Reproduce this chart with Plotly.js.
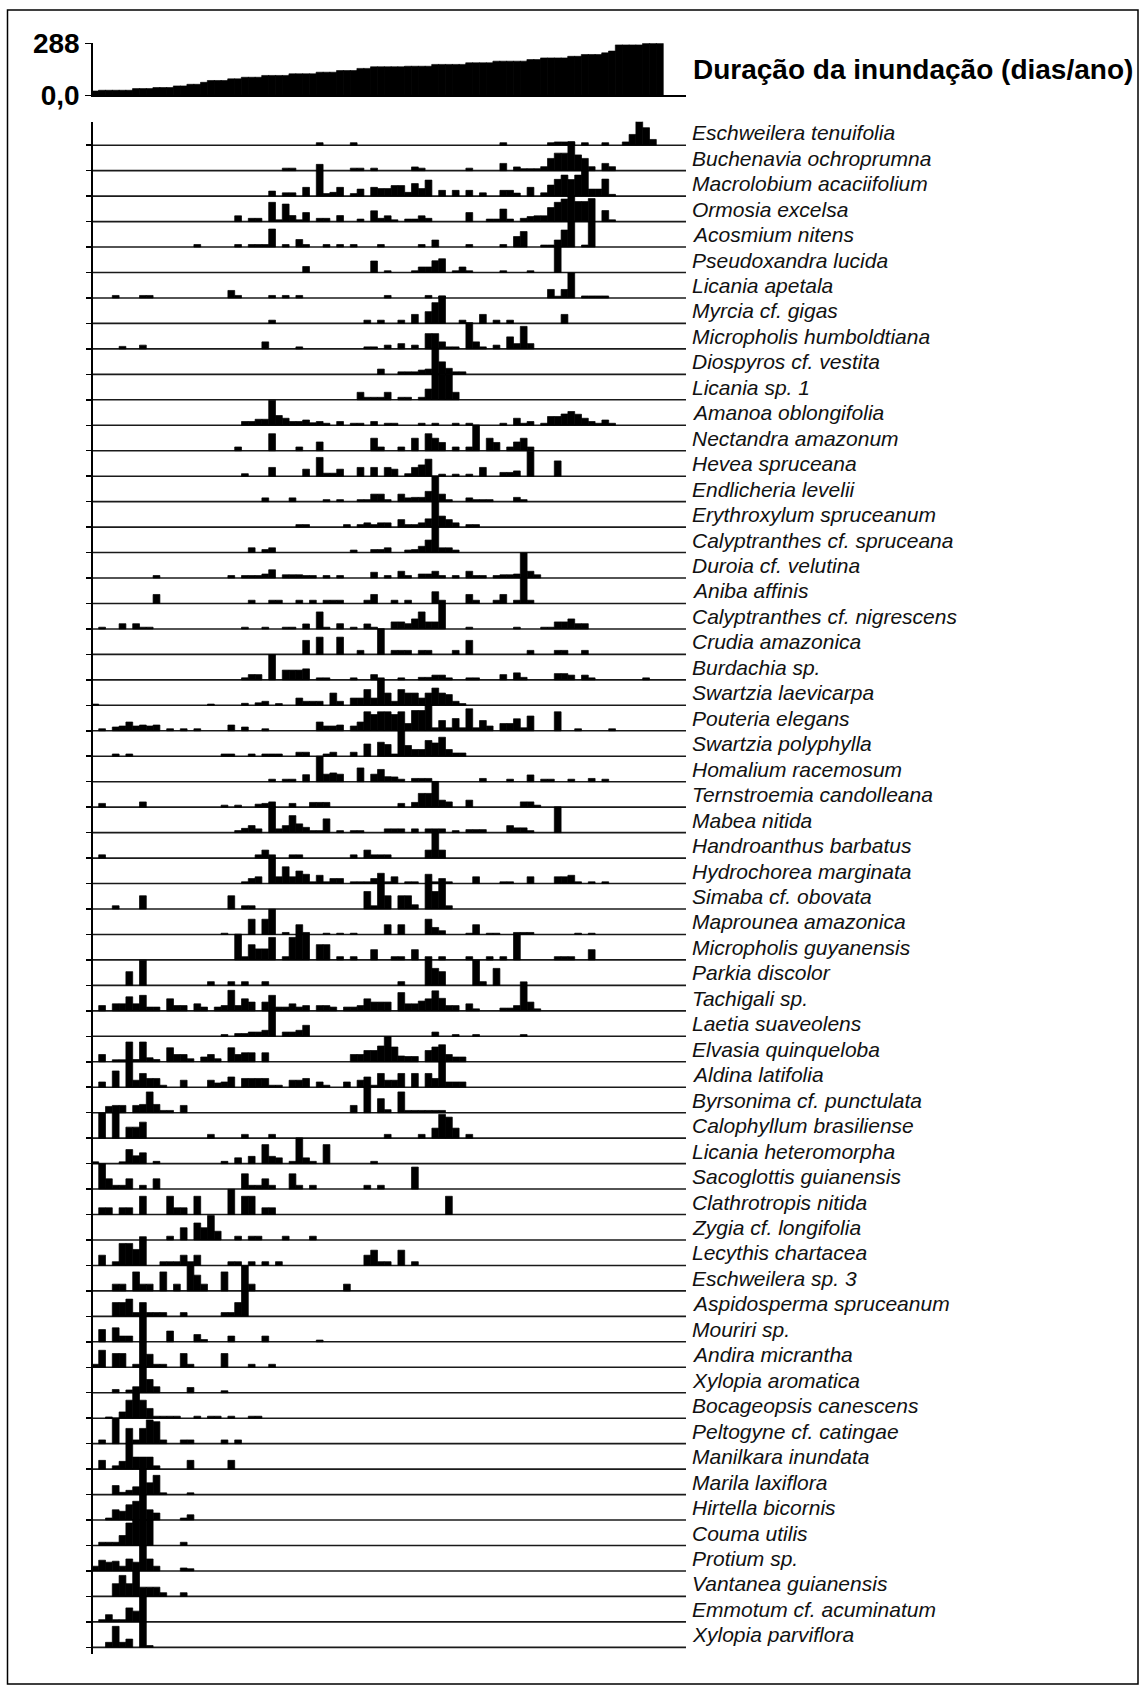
<!DOCTYPE html>
<html><head><meta charset="utf-8">
<script src="https://cdn.plot.ly/plotly-3.0.1.min.js"></script>
<style>html,body{margin:0;padding:0;background:#fff}#chart{width:1143px;height:1688px}</style>
</head><body><div id="chart"></div>
<script>
// ---------- DATA ----------
// flood duration (days/year) of the 84 plots, sorted (plot index 0..83)
const floodDays = [24,28,28,28,28,28,37,37,37,43,43,43,52,52,61,61,72,82,82,82,91,91,100,100,100,110,110,110,110,119,119,119,119,128,128,128,137,137,137,149,149,158,158,158,158,158,161,161,161,161,171,171,171,171,171,180,180,180,180,189,189,189,189,189,198,198,207,207,207,207,216,216,226,226,226,235,245,279,279,279,279,288,288,288];

const species = ["Eschweilera tenuifolia","Buchenavia ochroprumna","Macrolobium acaciifolium","Ormosia excelsa","Acosmium nitens","Pseudoxandra lucida","Licania apetala","Myrcia cf. gigas","Micropholis humboldtiana","Diospyros cf. vestita","Licania sp. 1","Amanoa oblongifolia","Nectandra amazonum","Hevea spruceana","Endlicheria levelii","Erythroxylum spruceanum","Calyptranthes cf. spruceana","Duroia cf. velutina","Aniba affinis","Calyptranthes cf. nigrescens","Crudia amazonica","Burdachia sp.","Swartzia laevicarpa","Pouteria elegans","Swartzia polyphylla","Homalium racemosum","Ternstroemia candolleana","Mabea nitida","Handroanthus barbatus","Hydrochorea marginata","Simaba cf. obovata","Maprounea amazonica","Micropholis guyanensis","Parkia discolor","Tachigali sp.","Laetia suaveolens","Elvasia quinqueloba","Aldina latifolia","Byrsonima cf. punctulata","Calophyllum brasiliense","Licania heteromorpha","Sacoglottis guianensis","Clathrotropis nitida","Zygia cf. longifolia","Lecythis chartacea","Eschweilera sp. 3","Aspidosperma spruceanum","Mouriri sp.","Andira micrantha","Xylopia aromatica","Bocageopsis canescens","Peltogyne cf. catingae","Manilkara inundata","Marila laxiflora","Hirtella bicornis","Couma utilis","Protium sp.","Vantanea guianensis","Emmotum cf. acuminatum","Xylopia parviflora"];

// abundance per plot for each species: [plot index, abundance]
const abundance = [
[[33,1],[38,1],[60,1],[67,1],[68,1.3],[69,1.3],[70,1.3],[72,1],[75,1],[78,1.3],[79,4.3],[80,10.3],[81,7],[82,2.3]],
[[28,1],[29,1],[38,1],[39,1],[41,1],[47,1.5],[48,1],[55,1],[60,2.9],[62,1.5],[63,0.8],[64,0.8],[65,0.8],[66,1.6],[67,4.9],[68,7],[69,7],[70,11.6],[71,6.3],[72,4.9],[73,1.6],[75,2.9],[76,1.6]],
[[26,2],[28,1.3],[29,1.3],[31,3.5],[33,12.7],[34,1],[35,1.5],[36,3.5],[38,1],[39,2.8],[41,3.5],[42,3],[43,3],[44,4.2],[45,4.2],[46,1.5],[47,5],[48,3],[49,6.4],[51,2.3],[53,2.3],[55,2.3],[57,1.3],[60,2.3],[61,2.3],[62,1.2],[64,3.5],[66,1.3],[67,4.4],[68,6.7],[69,8.4],[70,6.6],[71,8.4],[72,10],[73,2.8],[74,2.8],[75,6.8],[76,0.7]],
[[21,2.3],[23,1.3],[24,1.3],[26,7.7],[27,0.7],[28,7],[29,2.4],[30,0.7],[31,3.6],[33,1.3],[34,1.3],[36,2.4],[39,1],[41,4.3],[42,1.3],[43,2.3],[44,0.7],[46,1],[47,1],[48,2.3],[49,1.3],[55,3.6],[58,1],[59,1],[60,5],[61,1],[63,1.3],[64,2],[65,2.3],[66,2.3],[67,5.6],[68,7.7],[69,9],[70,10.2],[71,8],[72,8],[73,9.2],[75,4.4],[76,0.7]],
[[15,1],[21,1],[23,1],[24,1],[25,1],[26,7.2],[28,1],[30,3],[31,1],[34,1],[36,1],[38,1],[42,1],[48,1],[50,2.8],[55,1],[60,1],[62,4.2],[63,6.2],[66,0.8],[67,0.8],[68,2.8],[69,6.8],[70,10.2],[72,0.8],[73,10.2]],
[[31,2.4],[41,4.6],[43,0.7],[47,0.7],[48,2.2],[49,2.2],[50,4.7],[51,5.5],[53,0.7],[54,2.2],[55,0.7],[60,0.7],[64,0.7],[68,10.2]],
[[3,1],[7,1],[8,1],[20,3],[21,1],[26,1],[28,1],[30,1],[43,1],[49,1],[51,0.7],[67,3.4],[68,0.7],[69,3.4],[70,10],[72,0.8],[73,0.8],[74,0.8],[75,0.8]],
[[26,1.3],[40,1.3],[42,1.3],[45,1.3],[47,3.6],[49,4.7],[50,8.3],[51,11],[54,1.3],[57,3.6],[59,1.3],[61,1.3],[69,3.6]],
[[4,1],[7,1.5],[25,2.8],[30,0.8],[40,0.8],[41,0.8],[43,1.5],[45,2.1],[47,1.5],[49,6.1],[50,6.1],[51,2.8],[52,0.8],[53,0.8],[55,10.5],[56,2.8],[57,0.8],[59,1.5],[61,4.8],[62,2.1],[63,9],[64,2.1]],
[[42,2.1],[45,1],[46,1],[47,1],[48,1.7],[49,2.1],[50,10.3],[51,5],[52,2.4],[53,1],[54,1]],
[[39,3],[40,1],[41,1],[42,1],[43,3],[45,1],[46,1],[48,1],[49,4.3],[50,10.3],[51,10],[52,10],[53,3]],
[[22,1.5],[23,1.5],[24,2.4],[25,2.4],[26,10],[27,3.9],[28,2.8],[29,1.5],[30,1.5],[31,2.1],[32,1],[33,1.5],[34,0.8],[36,1.5],[38,0.8],[39,0.8],[41,1.5],[43,0.8],[44,0.8],[48,0.8],[50,0.8],[53,0.8],[55,0.8],[60,0.8],[62,2.8],[63,0.8],[64,1.5],[66,0.8],[67,3.5],[68,3.5],[69,4.5],[70,5.5],[71,4.4],[72,2.8],[73,1.5],[74,0.8],[75,2.1],[76,0.8]],
[[21,1.5],[26,6.8],[30,1.5],[33,3.5],[41,5],[42,1.5],[45,1.5],[47,5],[49,6.8],[50,5],[51,3.3],[53,1.5],[55,1.5],[56,10.3],[58,5],[59,3.3],[61,1.5],[62,3.5],[63,5],[64,1.5]],
[[22,1],[26,3.5],[31,2.8],[33,7.5],[34,1.2],[35,1.2],[36,2.8],[39,3.5],[41,3.5],[43,3.5],[44,2.8],[46,1],[47,3.5],[48,4.5],[49,6.8],[51,0.8],[53,0.8],[55,0.8],[57,3.5],[60,1.5],[61,1.5],[62,2.1],[64,10],[68,6.1]],
[[25,1.5],[29,1.5],[34,0.8],[36,0.8],[39,0.8],[40,0.8],[41,3],[42,3],[43,0.8],[45,3],[46,1.5],[47,1.7],[48,1.7],[49,4.1],[50,10.3],[51,3],[52,0.8],[55,1.5],[56,0.8],[57,0.8],[58,0.8],[62,1.7],[63,0.8]],
[[30,1],[31,1],[37,1],[39,1],[40,1.7],[41,1],[42,1.7],[43,1.7],[45,3],[46,1],[47,1],[48,1.7],[49,3.3],[50,10.3],[51,4.4],[52,3],[53,1.7],[55,1],[56,1]],
[[23,1.9],[25,1.2],[26,1.9],[38,1],[41,1.2],[42,1.2],[43,1.9],[46,1],[47,1.2],[48,2.5],[49,5],[50,10.2],[51,1.9],[52,1.9],[53,1]],
[[9,1],[20,1],[22,1],[23,1],[24,1],[25,1.6],[26,3.3],[28,1.3],[29,1.3],[30,1.3],[31,1],[32,1],[34,1],[36,1],[41,2.3],[43,1],[45,2.7],[46,1],[48,1.6],[49,1.6],[50,2.7],[51,1],[53,1],[55,2.7],[56,1],[57,1],[59,1],[60,1.3],[61,1.3],[62,1.6],[63,10],[64,2.7],[65,1.3]],
[[9,3.6],[23,1.3],[26,1.3],[27,1.3],[30,1.3],[32,1.3],[34,1.3],[35,1.3],[36,1.3],[40,1.3],[41,3.6],[44,1.3],[46,1.3],[50,4.7],[51,1.3],[55,3.6],[56,1.3],[59,1.3],[60,3.6],[62,1.3],[63,10.3],[64,1.3]],
[[1,0.7],[4,2.1],[6,2.1],[7,0.7],[8,0.7],[22,0.7],[25,0.7],[28,0.7],[29,0.7],[31,2],[33,6.8],[34,0.7],[36,2.1],[38,0.7],[40,2],[41,0.7],[44,2.8],[45,2.8],[46,2.1],[47,4],[48,6.8],[49,2.8],[50,2.8],[51,10.1],[55,0.7],[62,0.7],[66,0.7],[67,0.7],[68,2.8],[69,2.8],[70,4],[71,2.1],[72,2.1]],
[[31,5.6],[33,6.9],[36,6.9],[39,1.6],[42,10.3],[44,1.6],[45,1.6],[46,1.6],[48,1.6],[49,1.6],[53,1.6],[55,5.6],[64,1.6],[68,1.6],[69,1.6],[72,1.6]],
[[22,0.8],[23,2.1],[24,2.1],[26,10.1],[28,3.9],[29,3.9],[30,3.9],[31,4.4],[33,0.8],[34,0.8],[38,0.8],[41,2.1],[42,0.8],[45,0.8],[48,1],[49,1],[50,1.9],[51,1.9],[52,0.8],[55,0.8],[56,0.8],[60,2.1],[62,2.8],[63,1],[68,2.5],[69,2.5],[70,1.9],[72,1.9],[73,0.8],[81,0.8]],
[[0,0.5],[17,0.5],[22,0.8],[24,1],[25,1.6],[27,0.7],[30,2.9],[31,1.6],[32,1.6],[33,1.6],[35,4.9],[36,1.6],[38,2.9],[39,2.9],[40,6.3],[41,2.9],[42,10.1],[43,4.9],[44,1.6],[45,6.3],[46,4.9],[47,4.9],[48,2.9],[49,4.9],[50,6.9],[51,4.9],[52,4.3],[53,1.6],[54,0.7]],
[[1,0.8],[3,1.5],[4,1.9],[5,3.5],[6,1.9],[7,2.3],[8,1.9],[9,2.3],[11,0.8],[13,0.8],[15,0.8],[20,2.3],[22,1.5],[25,0.8],[33,3.5],[34,1.9],[35,1.9],[36,2.3],[38,1.9],[39,3.5],[40,7.6],[41,6.5],[42,7.6],[43,7.6],[44,6.5],[45,7.6],[46,2.9],[47,8.1],[48,8.1],[49,10.3],[50,1.2],[51,4.1],[52,1.2],[53,4.9],[54,1.2],[55,8.8],[56,1.2],[57,4.1],[58,1.9],[60,2.9],[61,2.9],[62,4.8],[63,1.2],[64,5.9],[68,7.6],[71,0.8],[76,0.8]],
[[3,0.9],[5,0.9],[19,0.9],[20,0.9],[23,0.9],[25,0.9],[26,0.9],[27,0.9],[30,1.6],[31,1.6],[34,0.9],[35,1.6],[38,1.6],[40,4.9],[42,5.6],[43,4.7],[44,0.9],[45,10.1],[46,4.3],[47,2.7],[48,2.7],[49,6.3],[50,5.3],[51,7.6],[52,2.7],[53,1.3],[54,1.3]],
[[26,1],[28,1],[29,1],[31,2.8],[33,10.2],[34,3],[35,3.5],[36,3],[39,5.5],[41,3],[42,4.9],[43,2],[44,1.9],[45,1],[47,1.3],[48,1.3],[49,1.3],[57,1.3],[61,1],[64,2.7],[66,1],[67,1],[70,1],[73,1.3],[75,1]],
[[1,1.5],[7,2.1],[19,0.8],[21,0.8],[24,1.2],[25,1.5],[26,2.1],[29,1.5],[32,1.9],[33,1.9],[34,1.9],[45,1.5],[47,1.9],[48,5.5],[49,5.5],[50,10.3],[51,2.8],[52,2.1],[55,2.8],[63,2.1],[64,2.1],[65,0.8]],
[[21,0.8],[22,1.7],[23,2.8],[24,1.5],[26,10.3],[27,1.5],[28,2.8],[29,6.8],[30,3.5],[31,2.1],[32,0.8],[33,0.8],[34,5.5],[36,0.8],[38,0.8],[39,0.8],[43,1.5],[44,1.5],[45,1.5],[47,1.5],[49,1.5],[50,1.5],[51,1.5],[53,0.8],[55,1.2],[56,1.2],[57,1.2],[61,2.8],[62,1.9],[63,1.9],[64,0.8],[68,10.3]],
[[1,1.3],[24,1.3],[25,3.2],[26,1.3],[29,1.3],[30,1.3],[38,1.3],[40,3.2],[41,1.3],[42,1.3],[43,1.3],[49,3.2],[50,10.1],[51,3.2]],
[[22,0.7],[23,2],[24,2.7],[26,10.1],[27,2.7],[28,6.7],[29,2.7],[30,5],[31,3.7],[32,0.7],[33,3.3],[34,0.7],[35,2],[36,2],[38,0.7],[39,0.7],[40,0.7],[41,2],[42,4.1],[43,0.7],[44,2.7],[46,0.7],[47,0.7],[49,3.7],[50,0.7],[51,2],[52,0.7],[56,2.7],[60,0.7],[61,0.7],[64,2.7],[68,2.7],[69,2.7],[70,3.3],[71,0.7],[73,0.7],[75,0.7]],
[[3,1.3],[7,5.3],[20,5.3],[22,1.3],[23,1.3],[40,7],[41,1.3],[42,10.3],[43,5.3],[45,5.3],[46,5.3],[47,1.7],[49,10.3],[50,7],[51,10.3],[52,1.3]],
[[19,0.5],[23,6.1],[25,6.1],[26,10.1],[28,0.8],[30,3.9],[31,0.8],[34,0.5],[36,0.5],[38,0.5],[43,3.9],[45,3.9],[49,6.1],[50,2.8],[51,1.5],[55,0.5],[56,3.9],[58,0.5],[59,0.5],[62,0.8],[63,0.8],[64,0.8],[71,0.5],[73,0.5]],
[[21,10.3],[22,1.3],[23,6.1],[24,4.4],[25,4.4],[26,9],[28,1.3],[29,9],[30,10.3],[31,10.3],[33,6.1],[34,6.1],[36,1.3],[38,1.3],[41,4.1],[44,1.3],[45,1.3],[47,4.1],[49,1.3],[51,1.3],[55,1.3],[58,1.3],[60,1.3],[62,10.3],[68,1.3],[69,1.3],[70,1.3],[73,4.1]],
[[5,5.5],[7,10.1],[17,1.5],[20,1.5],[22,1.5],[25,1.5],[45,1.5],[49,10.1],[50,6.8],[51,5.5],[56,10.1],[57,1.5],[59,6.8]],
[[1,2.1],[3,2.8],[4,2.8],[5,5.6],[6,2.8],[7,6.2],[8,1.5],[9,1.5],[11,4.8],[12,2.1],[13,2.1],[15,2.8],[16,1.5],[18,1.5],[19,2.1],[20,8.2],[21,2.1],[22,4.8],[23,3.5],[25,3.5],[26,6.2],[27,1.5],[28,1.5],[29,2.8],[30,1.5],[31,2.1],[33,2.1],[34,2.1],[35,1.5],[37,1.5],[38,1.5],[39,2.1],[40,4.8],[41,3.5],[42,3.5],[43,3.5],[45,7.3],[46,2.8],[47,2.8],[48,3.9],[49,4.8],[50,8],[51,5],[52,2.1],[53,2.1],[55,2.8],[56,0.8],[60,1.1],[61,1.1],[62,2.1],[63,11.6],[64,3.5],[65,0.8]],
[[19,0.7],[21,1.1],[22,1.1],[23,1.7],[24,1.7],[25,2.4],[26,10.3],[28,1.7],[29,1.7],[30,2.4],[31,4.4],[50,1.7],[53,0.7],[56,0.7],[63,0.7]],
[[1,2.9],[3,0.8],[4,0.8],[5,7.9],[6,0.9],[7,7.9],[8,1.6],[9,0.9],[11,5.6],[12,2.9],[13,2.9],[14,1.2],[16,1.9],[17,2.9],[18,1.2],[20,5.6],[21,2.9],[22,3.6],[23,3.6],[25,3.6],[38,2.9],[39,2.9],[40,4.5],[41,4.5],[42,6.3],[43,10.1],[44,5.9],[45,2.3],[46,2.1],[47,2.1],[49,4.5],[50,5.9],[51,6.8],[52,2.9],[53,1.9],[54,1.9]],
[[1,2.1],[3,6.5],[5,10.3],[6,2.8],[7,5.5],[8,3.5],[9,3.5],[10,0.8],[13,2.8],[17,2.8],[18,1.7],[19,2.1],[20,4.1],[22,3.5],[23,3.5],[24,3.5],[25,3.5],[26,0.8],[27,0.8],[29,2.8],[30,2.8],[31,3.5],[33,2.1],[34,0.8],[37,2.1],[39,2.8],[40,4.1],[41,0.8],[42,5.5],[43,2.8],[44,2.8],[45,5.5],[47,5.5],[49,5.5],[50,3.5],[51,10.3],[52,2.1],[53,2.1],[54,2.1]],
[[2,2.5],[3,2.9],[4,2.9],[6,2.9],[7,3.3],[8,8.3],[9,3.3],[10,0.9],[11,0.9],[13,2.9],[38,2.9],[40,10.1],[42,5.6],[43,1.2],[45,8.3],[46,0.9],[47,0.9],[48,0.9],[49,0.9],[50,0.9],[51,0.9]],
[[1,10.1],[3,10.1],[5,4.4],[6,4.4],[7,6.4],[17,1.5],[22,1.5],[26,1.5],[43,1.5],[48,1.5],[50,4],[51,9.5],[52,8.4],[53,4],[55,1.5]],
[[0,0.7],[4,0.7],[5,5.6],[6,3.1],[7,4.3],[9,0.9],[19,0.9],[21,2.3],[23,2.9],[25,7.6],[26,2.9],[27,2.3],[29,0.9],[30,10.3],[31,2.3],[32,0.9],[34,7.6],[41,0.9]],
[[1,10.1],[2,4.1],[3,1.5],[4,1.5],[5,4.1],[7,1.5],[9,4.1],[22,6.1],[23,1.5],[24,1.5],[25,4.1],[26,1.5],[29,6.1],[30,1.5],[32,1.5],[40,1.5],[42,1.5],[47,8.8]],
[[1,2.7],[2,2.7],[4,2.7],[5,2.7],[7,7.3],[11,7.3],[12,2.7],[13,2.7],[15,7.3],[20,10.1],[22,7.3],[23,7.3],[25,2.7],[26,2.7],[52,7.3]],
[[11,1.5],[13,4.9],[15,6.8],[16,4.9],[17,9.8],[18,3.5],[21,1.5],[23,1.5],[24,1.5],[28,1.5],[32,1.5]],
[[1,4.1],[3,1.5],[4,8.8],[5,8.8],[6,6.4],[7,11.5],[10,1.5],[11,1.5],[12,1.5],[13,4.1],[14,1.5],[15,4.1],[20,1.5],[21,1.5],[23,1.5],[25,1.5],[27,1.5],[40,4.1],[41,6.1],[42,1.5],[43,1.5],[45,6.1],[47,1.5]],
[[3,2.7],[4,2.7],[6,7.6],[7,2.7],[8,2.7],[10,7.6],[12,2.7],[14,10.1],[15,6.3],[16,2.7],[19,7.6],[22,10.1],[23,2.7],[37,2.7]],
[[3,5.5],[4,5.5],[5,6.9],[6,1.5],[7,5.5],[8,1.5],[9,1.5],[10,1.5],[13,1.5],[19,1.5],[20,1.5],[21,5.5],[22,10.3]],
[[1,4.9],[3,5.6],[4,2.3],[5,2.3],[7,10.1],[11,4.3],[15,2.9],[16,0.9],[20,2.3],[25,2.3],[33,0.7]],
[[0,1.2],[1,6.8],[3,5.5],[4,5.5],[6,1.2],[7,10.1],[8,5.2],[9,1.2],[10,1.2],[13,5.5],[14,1.2],[19,5.5],[23,1.2],[26,1.2]],
[[3,1.3],[5,1.1],[6,2.4],[7,10.3],[8,5.3],[9,2.4],[14,2.1],[19,0.8]],
[[2,0.5],[4,2.5],[5,7.2],[6,10.1],[7,7.2],[8,3.9],[9,0.8],[10,0.8],[11,0.8],[12,0.8],[15,0.8],[17,0.8],[18,0.8],[20,0.8],[23,0.8],[24,0.8]],
[[1,1.5],[3,10.3],[5,6.1],[6,1.5],[7,6.1],[8,9.5],[9,8.8],[10,1.5],[13,1.5],[14,1.5],[19,1.5],[21,1.5]],
[[1,3.5],[3,1.3],[4,3.1],[5,10.4],[6,4.8],[7,4.8],[8,4.8],[9,1.3],[14,3.5],[20,3.5]],
[[3,3.6],[4,0.9],[5,1.7],[6,3.1],[7,10.3],[8,4.7],[9,7.7],[10,0.7],[14,0.7]],
[[2,0.8],[3,4.1],[4,3.5],[5,6.1],[6,7.5],[7,10.1],[8,4.1],[9,2.8],[13,0.8],[14,2.1]],
[[1,1.3],[2,1.3],[3,1.3],[4,4],[5,9],[6,10.3],[7,10.3],[8,10.3],[13,1.3]],
[[0,1.9],[1,4.3],[2,3.5],[3,3.9],[4,1.9],[5,4.8],[6,3.5],[7,10.1],[8,4.8],[9,1.9],[13,1.2],[14,0.9]],
[[3,5.1],[4,8.4],[5,5.1],[6,10.3],[7,3.7],[8,3.7],[9,3.7],[10,1.5],[13,1.5]],
[[1,0.9],[2,2.9],[3,0.9],[4,0.9],[5,5.6],[6,4.3],[7,10.1]],
[[2,2],[3,8.4],[4,2],[5,3.3],[7,10.1],[8,0.7]]
];

const topTickVals = [0, 288];
const topTickText = ["0,0", "288"];
const titleText = "Duração da inundação (dias/ano)";

// ---------- LAYOUT GEOMETRY (pixels) ----------
const W = 1143, H = 1688;
const G = {axisX: 92.7, lineEnd: 686, bin0: 91.9, binW: 6.8,
           row0: 145.2, rowGap: 25.46, spTop: 121.7, spBottom: 1653.7,
           topTop: 43.3, topBase: 95.3, pxPerUnit: 2.5, labelX: 690, titleMid: 69};

const plotOfPx = px => (px - G.bin0) / G.binW + 0.5;
const xRange = [plotOfPx(G.axisX), plotOfPx(G.lineEnd)];
const xDomain = [G.axisX / W, G.lineEnd / W];
const R = G.rowGap / G.pxPerUnit;
const yRange = [-(G.spBottom - G.row0) / G.pxPerUnit, (G.row0 - G.spTop) / G.pxPerUnit];
const yDomain = [1 - G.spBottom / H, 1 - G.spTop / H];
const y2Domain = [1 - G.topBase / H, 1 - G.topTop / H];

const black = '#000';
const traces = [];
traces.push({
  type: 'bar', x: floodDays.map((_, i) => i + 1), y: floodDays,
  xaxis: 'x2', yaxis: 'y2', width: 1.06,
  marker: {color: black, line: {color: black, width: 0.6}}, hoverinfo: 'skip'
});
abundance.forEach((row, i) => {
  traces.push({
    type: 'bar', x: row.map(p => p[0] + 1), y: row.map(p => p[1]),
    base: -i * R, width: 1, xaxis: 'x', yaxis: 'y',
    marker: {color: black, line: {color: black, width: 0.7}}, hoverinfo: 'skip'
  });
});

const shapes = species.map((_, i) => ({
  type: 'line', xref: 'x', yref: 'y', x0: xRange[0], x1: xRange[1],
  y0: -i * R, y1: -i * R, line: {color: '#1a1a1a', width: 1.6}, layer: 'below'
}));
shapes.push({type: 'rect', xref: 'paper', yref: 'paper',
  x0: 7.5 / W, x1: 1138 / W, y0: 1 - 1684 / H, y1: 1 - 10 / H,
  line: {color: black, width: 1.5}, fillcolor: 'rgba(0,0,0,0)'});

const FONT = 'Liberation Sans, Arial, Helvetica, sans-serif';
const annotations = species.map((name, i) => ({
  xref: 'paper', yref: 'y', x: G.labelX / W, y: -i * R + 5,
  xanchor: 'left', yanchor: 'middle', showarrow: false,
  text: '<i>' + name + '</i>', font: {family: FONT, size: 21, color: '#111'}
}));
annotations.push({
  xref: 'paper', yref: 'paper', x: 691 / W, y: 1 - G.titleMid / H,
  xanchor: 'left', yanchor: 'middle', showarrow: false,
  text: '<b>' + titleText + '</b>', font: {family: FONT, size: 28, color: black}
});

const layout = {
  width: W, height: H, autosize: false,
  margin: {l: 0, r: 0, t: 0, b: 0, pad: 0},
  paper_bgcolor: '#fff', plot_bgcolor: 'rgba(0,0,0,0)',
  showlegend: false, barmode: 'overlay', bargap: 0,
  xaxis: {domain: xDomain, range: xRange, anchor: 'y', showline: false, showgrid: false,
          zeroline: false, showticklabels: false, ticks: '', fixedrange: true},
  yaxis: {domain: yDomain, range: yRange, anchor: 'x', showline: true, linecolor: black,
          linewidth: 1.5, ticks: 'outside', ticklen: 5, tickwidth: 1.5, tickcolor: black,
          tickvals: species.map((_, i) => -i * R), showticklabels: false,
          showgrid: false, zeroline: false, fixedrange: true},
  xaxis2: {domain: xDomain, range: xRange, anchor: 'y2', showline: true, linecolor: black,
           linewidth: 1.6, showgrid: false, zeroline: false, showticklabels: false, ticks: '',
           fixedrange: true},
  yaxis2: {domain: y2Domain, range: [0, 288], anchor: 'x2', showline: true, linecolor: black,
           linewidth: 1.5, ticks: 'outside', ticklen: 6, tickwidth: 1.5, tickcolor: black,
           tickvals: topTickVals, ticktext: topTickText.map(t => '<b>' + t + '</b>'),
           tickfont: {family: FONT, size: 28, color: black},
           showgrid: false, zeroline: false, fixedrange: true},
  shapes: shapes, annotations: annotations
};

Plotly.newPlot('chart', traces, layout, {staticPlot: true, displayModeBar: false});
</script>
</body></html>
